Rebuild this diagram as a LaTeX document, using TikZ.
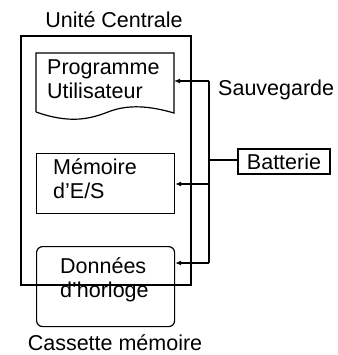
\documentclass[tikz,border=0pt]{standalone}
\usepackage{fontspec}
\setmainfont{Liberation Sans}
\usetikzlibrary{arrows.meta}
\begin{document}
\begin{tikzpicture}[x=1pt,y=-1pt,
  lbl/.style={font=\fontsize{21.5}{24}\selectfont, inner sep=0pt},
  blk/.style={line width=1.2pt},
  thk/.style={line width=2pt},
  conn/.style={line width=1.2pt},
  arr/.style={conn,-{Latex[length=6pt,width=5pt]}}]
\useasboundingbox (0,0) rectangle (337,355);
% Unite centrale
\node[draw,thk,minimum width=170pt,minimum height=249pt,inner sep=0pt,anchor=north west] (uc) at (20,35) {};
\node[lbl] (uct) at (114,20) {Unité Centrale};
% Programme utilisateur (document shape)
\draw[blk] (36,112) -- (36,53) -- (174,53) -- (174,113)
  .. controls (150,106) and (128,104) .. (108,112)
  .. controls (90,119) and (70,124) .. (36,112);
\coordinate (pu) at (174,81);
\node[lbl,align=left,anchor=north west] (put) at (47,60) {Programme\\Utilisateur};
% Memoire d'E/S
\node[draw,blk,minimum width=138pt,minimum height=60pt,inner sep=0pt,anchor=north west] (mes) at (36,153) {};
\node[lbl,align=left,anchor=north west] (mest) at (53,158) {Mémoire\\d’E/S};
% Donnees d'horloge
\node[draw,blk,rounded corners=6pt,minimum width=138pt,minimum height=80pt,inner sep=0pt,anchor=north west] (dh) at (36,246) {};
\node[lbl,align=left,anchor=north west] (dht) at (60,257) {Données\\d’horloge};
\node[lbl,anchor=base] (cm) at (115,350) {Cassette mémoire};
% Batterie
\node[draw,thk,minimum width=92pt,minimum height=25pt,inner sep=0pt,anchor=north west] (bat) at (237,148) {};
\node[lbl] (batt) at (bat.center) {Batterie};
\node[lbl,anchor=west] (sv) at (218,90) {Sauvegarde};
% connectors
\coordinate (bus) at (209,160);
\draw[conn] (bat.west |- bus) -- (bus);
\draw[conn] (209,81) -- (209,263);
\draw[arr] (209,81) -- (pu);
\draw[arr] (209,184) -- (mes.east |- 0,184);
\draw[arr] (209,263) -- (dh.east |- 0,263);
\end{tikzpicture}
\end{document}
